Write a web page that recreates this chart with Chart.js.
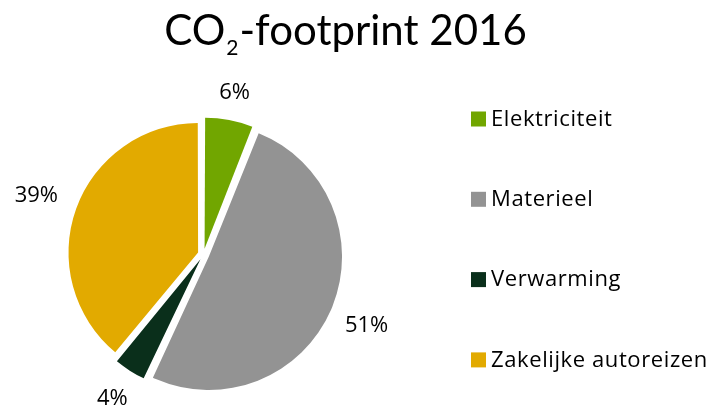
<!DOCTYPE html>
<html><head><meta charset="utf-8">
<style>html,body{margin:0;padding:0;background:#fff;overflow:hidden}#wrap{width:712px;height:408px;position:relative}</style>
<script src="https://cdn.jsdelivr.net/npm/chart.js@4"></script>
</head><body><div id="wrap"><canvas id="c" width="712" height="408"></canvas></div>
<script>
// ---- data ----
const categories = ['Elektriciteit', 'Materieel', 'Verwarming', 'Zakelijke autoreizen'];
const shares = [6, 51, 4, 39];
const sliceColors = ['#71A600', '#939393', '#0A2F1B', '#E2AA00'];
const titleMain = 'CO';
const titleSub = '2';
const titleRest = '-footprint 2016';

const FONT = "'Open Sans', Lato, sans-serif";
const TITLE_FONT = "Lato, 'Open Sans', sans-serif";
const TEXT = '#000000';

const titlePlugin = {
  id: 'titleDraw',
  afterDraw(chart) {
    const ctx = chart.ctx;
    ctx.save();
    ctx.fillStyle = TEXT;
    ctx.textBaseline = 'alphabetic';
    ctx.textAlign = 'left';
    const big = '42px ' + TITLE_FONT, small = '21px ' + TITLE_FONT;
    ctx.font = big; const w1 = ctx.measureText(titleMain).width; const w3 = ctx.measureText(titleRest).width;
    ctx.font = small; const w2 = ctx.measureText(titleSub).width;
    const cx = 345.5, base = 45;
    let x = cx - (w1 + w2 + w3 + 2) / 2;
    ctx.font = big; ctx.fillText(titleMain, x, base); x += w1 + 1;
    ctx.font = small; ctx.fillText(titleSub, x, base + 10); x += w2 + 1;
    ctx.font = big; ctx.fillText(titleRest, x, base);
    ctx.restore();
  }
};

const legendPlugin = {
  id: 'legendDraw',
  afterDraw(chart) {
    const ctx = chart.ctx;
    const ds = chart.data.datasets[0];
    ctx.save();
    ctx.font = '22px ' + FONT;
    if ('letterSpacing' in ctx) ctx.letterSpacing = '0.6px';
    ctx.textBaseline = 'middle';
    ctx.textAlign = 'left';
    chart.data.labels.forEach((lab, i) => {
      const y = 118.5 + i * 80.3;
      ctx.fillStyle = ds.backgroundColor[i];
      ctx.fillRect(471, y - 7, 15, 15);
      ctx.fillStyle = TEXT;
      ctx.fillText(lab, 491, y + 1);
    });
    ctx.restore();
  }
};

const pctPlugin = {
  id: 'pctLabels',
  afterDatasetsDraw(chart) {
    const ctx = chart.ctx;
    const meta = chart.getDatasetMeta(0);
    const vals = chart.data.datasets[0].data;
    const total = vals.reduce((a, b) => a + b, 0);
    ctx.save();
    ctx.font = '22px ' + FONT;
    ctx.fillStyle = TEXT;
    ctx.textAlign = 'center';
    ctx.textBaseline = 'middle';
    meta.data.forEach((arc, i) => {
      const p = arc.getProps(['x', 'y', 'startAngle', 'endAngle', 'outerRadius'], true);
      const mid = (p.startAngle + p.endAngle) / 2;
      const ux = Math.cos(mid), uy = Math.sin(mid);
      const off = (arc.options.offset || 0) / 4;
      const txt = Math.round(vals[i] / total * 100) + '%';
      const hw = ctx.measureText(txt).width / 2, hh = 9;
      const dist = off + p.outerRadius + 21 + hw * Math.abs(ux) + hh * Math.abs(uy);
      ctx.fillText(txt, p.x + ux * dist, p.y + uy * dist + 1);
    });
    ctx.restore();
  }
};

new Chart(document.getElementById('c'), {
  type: 'pie',
  data: {
    labels: categories,
    datasets: [{
      data: shares,
      backgroundColor: sliceColors,
      borderWidth: 0,
      offset: 23,
      hoverOffset: 23,
      radius: 127.5
    }]
  },
  options: {
    responsive: false,
    devicePixelRatio: 1,
    animation: false,
    events: [],
    layout: { padding: { left: 0, right: 305, top: 101, bottom: 0 } },
    plugins: {
      legend: { display: false },
      title: { display: false },
      tooltip: { enabled: false }
    }
  },
  plugins: [pctPlugin, legendPlugin, titlePlugin]
});
</script>
</body></html>
